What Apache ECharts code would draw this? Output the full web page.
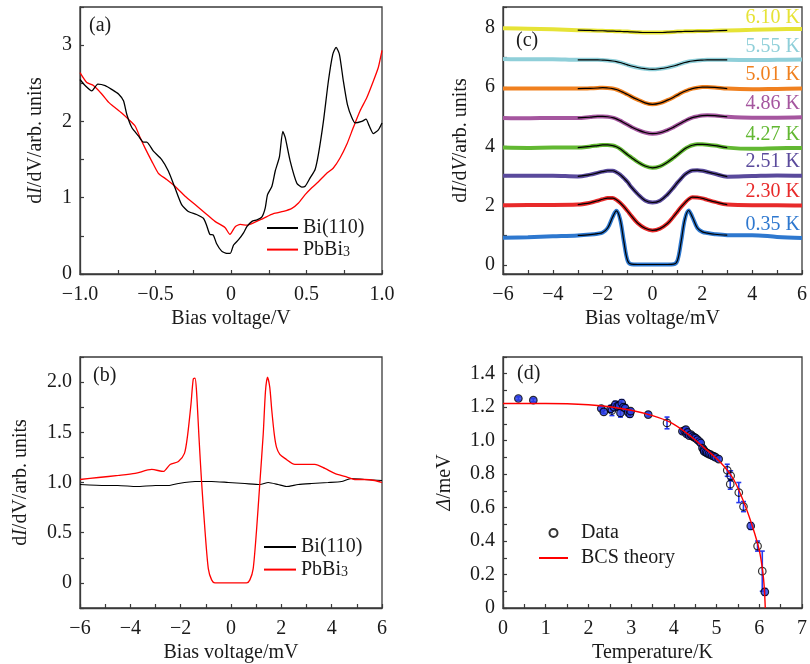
<!DOCTYPE html>
<html>
<head>
<meta charset="utf-8">
<script src="https://cdn.jsdelivr.net/npm/echarts@6/dist/echarts.min.js"></script>
<style>
html, body { margin: 0; padding: 0; background: #ffffff; }
#chart { width: 810px; height: 664px; }
</style>
</head>
<body>
<div id="chart"></div>
<script>
// ---------- (a) wide-range dI/dV spectra, bias in V ----------
const aBiX = [-1.0,-0.966,-0.922,-0.882,-0.833,-0.79,-0.745,-0.712,-0.69,-0.657,-0.613,-0.58,-0.558,-0.514,-0.459,-0.415,-0.371,-0.327,-0.283,-0.228,-0.183,-0.162,-0.14,-0.117,-0.096,-0.062,-0.029,-0.005,0.017,0.05,0.083,0.105,0.139,0.172,0.205,0.226,0.242,0.271,0.293,0.321,0.343,0.359,0.392,0.436,0.469,0.491,0.524,0.557,0.579,0.612,0.645,0.674,0.696,0.718,0.744,0.771,0.80,0.822,0.866,0.894,0.916,0.943,0.976,1.0];
const aBiY = [2.55,2.47,2.40,2.49,2.47,2.42,2.36,2.27,2.09,1.92,1.81,1.73,1.73,1.61,1.50,1.35,1.13,0.91,0.82,0.78,0.73,0.64,0.52,0.51,0.40,0.30,0.27,0.27,0.38,0.45,0.54,0.62,0.69,0.71,0.75,0.86,1.04,1.15,1.35,1.54,1.87,1.79,1.48,1.19,1.14,1.15,1.26,1.37,1.57,2.00,2.53,2.88,2.97,2.88,2.53,2.22,2.05,1.98,2.00,2.03,1.94,1.84,1.89,1.98];
const aPbX = [-1.0,-0.955,-0.911,-0.856,-0.81,-0.767,-0.724,-0.68,-0.635,-0.602,-0.569,-0.525,-0.481,-0.426,-0.371,-0.304,-0.238,-0.172,-0.106,-0.04,-0.007,0.028,0.061,0.105,0.149,0.215,0.281,0.347,0.403,0.447,0.491,0.535,0.579,0.634,0.678,0.722,0.767,0.81,0.855,0.899,0.943,0.976,1.0];
const aPbY = [2.64,2.51,2.47,2.36,2.25,2.18,2.11,2.03,1.94,1.79,1.65,1.48,1.32,1.24,1.15,1.02,0.91,0.80,0.69,0.61,0.52,0.62,0.65,0.64,0.67,0.73,0.79,0.82,0.86,0.93,1.04,1.13,1.21,1.32,1.39,1.52,1.70,1.92,2.14,2.31,2.53,2.71,2.93];

// ---------- (b) low-bias spectra, bias in mV ----------
const bPbX = [-6,-5.27,-4.47,-3.81,-3.15,-2.69,-2.42,-2.09,-1.85,-1.72,-1.59,-1.5,-1.43,-1.37,-1.27,-1.17,-1.03,-0.9,-0.77,-0.64,0,0.62,0.75,0.88,1.01,1.15,1.28,1.37,1.45,1.54,1.62,1.72,1.81,1.94,2.14,2.54,2.93,3.33,3.73,4.12,4.52,4.92,5.31,5.71,6.0];
const bPbY = [1.03,1.05,1.07,1.09,1.13,1.11,1.18,1.21,1.29,1.48,1.78,2.03,2.04,1.91,1.44,1.01,0.51,0.14,0.03,0.0,0.0,0.0,0.03,0.14,0.51,1.01,1.48,1.91,2.05,1.95,1.72,1.48,1.35,1.28,1.24,1.18,1.18,1.18,1.14,1.09,1.06,1.03,1.03,1.02,1.00];
const bBiX = [-6,-5,-4.5,-3.75,-3,-2.49,-2.09,-1.43,-0.77,-0.11,0.55,1.15,1.48,1.87,2.2,2.67,3.2,3.86,4.39,4.78,5.3,6.0];
const bBiY = [0.98,0.97,0.97,0.96,0.97,0.97,0.99,1.01,1.01,1.0,0.99,0.98,1.0,0.98,0.96,0.98,0.99,1.0,1.01,1.04,1.03,1.02];

// ---------- (c) temperature series (offset spectra) ----------
const cBias = [-6,-5,-4,-3,-2.5,-2.2,-2,-1.8,-1.6,-1.45,-1.3,-1.15,-1,-0.85,-0.6,-0.3,0,0.3,0.6,0.85,1,1.15,1.3,1.45,1.6,1.8,2,2.2,2.5,3,4,5,6];
const cTemps = ['0.35 K','2.30 K','2.51 K','4.27 K','4.86 K','5.01 K','5.55 K','6.10 K'];
const c035 = [0.92,0.94,0.97,1.00,1.03,1.06,1.10,1.25,1.62,1.83,1.55,0.80,0.15,0.03,0.02,0.02,0.02,0.02,0.02,0.03,0.15,0.80,1.55,1.84,1.62,1.25,1.12,1.08,1.04,1.01,1.01,0.95,0.91];
const c230 = [2.02,2.03,2.03,2.04,2.10,2.17,2.22,2.26,2.26,2.20,2.10,1.97,1.82,1.66,1.42,1.24,1.17,1.23,1.40,1.64,1.80,1.96,2.10,2.22,2.29,2.28,2.25,2.20,2.13,2.04,2.02,2.02,2.01];
const c251 = [3.01,3.01,3.01,2.99,3.05,3.11,3.15,3.18,3.18,3.13,3.05,2.93,2.80,2.63,2.40,2.18,2.11,2.17,2.38,2.62,2.78,2.92,3.05,3.14,3.19,3.20,3.18,3.14,3.08,2.98,3.00,3.02,3.01];
const c427 = [3.96,3.95,3.96,3.96,4.00,4.03,4.05,4.05,4.03,3.99,3.92,3.82,3.72,3.63,3.48,3.34,3.28,3.33,3.47,3.62,3.72,3.82,3.92,3.99,4.04,4.07,4.07,4.06,4.03,3.96,3.92,3.94,3.95];
const c486 = [4.96,4.95,4.96,4.96,4.99,5.01,5.01,5.00,4.97,4.93,4.87,4.80,4.73,4.66,4.56,4.47,4.43,4.46,4.55,4.65,4.72,4.79,4.86,4.92,4.97,5.01,5.04,5.05,5.04,5.00,4.97,4.97,4.98];
const c501 = [5.95,5.95,5.95,5.95,5.96,5.97,5.98,5.97,5.95,5.92,5.87,5.81,5.75,5.68,5.58,5.47,5.42,5.46,5.56,5.66,5.73,5.80,5.86,5.91,5.95,5.98,6.00,6.00,5.99,5.95,5.93,5.94,5.95];
const c555 = [6.95,6.94,6.94,6.92,6.92,6.92,6.91,6.90,6.88,6.86,6.83,6.79,6.75,6.71,6.66,6.62,6.60,6.62,6.66,6.71,6.75,6.79,6.83,6.86,6.88,6.90,6.91,6.92,6.92,6.92,6.91,6.92,6.93];
const c610 = [7.98,7.97,7.95,7.92,7.91,7.90,7.90,7.89,7.89,7.88,7.88,7.87,7.87,7.86,7.85,7.84,7.84,7.84,7.85,7.86,7.87,7.87,7.88,7.88,7.88,7.89,7.89,7.89,7.90,7.91,7.93,7.95,7.96];
const fitRange = 3; // fitted curves cover |V| <= 3 mV

// ---------- (d) gap vs temperature ----------
const dTemp  = [0.36,0.71,2.30,2.36,2.52,2.55,2.60,2.63,2.68,2.72,2.75,2.78,2.82,2.86,2.93,2.97,2.99,3.40,3.84,4.20,4.25,4.28,4.30,4.32,4.36,4.40,4.44,4.48,4.51,4.55,4.60,4.63,4.67,4.70,4.71,4.75,4.78,4.82,4.86,4.90,4.94,4.98,5.05,5.25,5.33,5.32,5.52,5.63,5.80,5.96,6.07,6.13];
const dGap   = [1.252,1.242,1.192,1.172,1.19,1.18,1.20,1.215,1.205,1.21,1.166,1.225,1.20,1.195,1.17,1.16,1.176,1.156,1.106,1.056,1.06,1.066,1.04,1.05,1.03,1.036,1.026,1.02,1.016,1.006,0.995,0.986,0.956,0.945,0.936,0.93,0.926,0.92,0.916,0.91,0.906,0.90,0.89,0.823,0.79,0.74,0.69,0.606,0.49,0.37,0.22,0.096];
const dErr   = [0.01,0.01,0.01,0.01,0.02,0.03,0.02,0.02,0.02,0.02,0.025,0.02,0.02,0.02,0.02,0.02,0.015,0.01,0.035,0.015,0.01,0.01,0.01,0.015,0.01,0.01,0.01,0.01,0.01,0.01,0.01,0.015,0.01,0.01,0.01,0.01,0.01,0.01,0.01,0.01,0.01,0.01,0.01,0.036,0.03,0.03,0.06,0.03,0.02,0.03,0.12,0.02];
const bcsT = [0,0.5,1.0,1.5,2.0,2.5,3.0,3.5,3.9,4.3,4.7,5.1,5.4,5.65,5.85,6.0,6.08,6.12,6.14];
const bcsGap = [1.222,1.222,1.222,1.221,1.215,1.203,1.182,1.150,1.112,1.045,0.960,0.868,0.768,0.625,0.48,0.345,0.22,0.11,0];

// ---------- styling ----------
const FONT = '"Liberation Serif", "DejaVu Serif", serif';
const INK = '#1a1a1a';
const FRAME = '#3a3a3a';
const FS = 20;
const cColors = ['#2e78cf','#e82a2a','#5a4a9c','#62b832','#a5569f','#f0801f','#8fcfd9','#e6e336'];
const cSets = [c035,c230,c251,c427,c486,c501,c555,c610];
const cLabelY = [226,193,163,136,105,76,48,19];

const zip = (xs, ys) => xs.map((x, i) => [x, ys[i]]);
const isStep = (v, s) => Math.abs(v / s - Math.round(v / s)) < 1e-6;
const minus = s => String(s).replace('-', '\u2212');

const richText = {
  it: { fontStyle: 'italic', fontFamily: FONT, fontSize: FS, color: INK },
  sub: { fontFamily: FONT, fontSize: 14, color: INK, verticalAlign: 'bottom', lineHeight: 20 }
};

function axis(o) {
  return Object.assign({
    type: 'value',
    axisLine: { show: true, onZero: false, lineStyle: { color: FRAME, width: 1.3 } },
    axisTick: { show: true, inside: true, length: 4, lineStyle: { color: FRAME, width: 1.2 } },
    splitLine: { show: false },
    nameLocation: 'middle',
    nameTextStyle: { fontFamily: FONT, fontSize: FS, color: INK, rich: richText },
  }, o);
}
function labels(fmt, margin) {
  return { color: INK, fontFamily: FONT, fontSize: FS, margin: margin, formatter: fmt, showMinLabel: true, showMaxLabel: true };
}

const fmtA_x = v => isStep(v, 0.5) ? (Math.abs(v) < 1e-9 ? '0' : minus(v.toFixed(1))) : '';
const fmtInt2 = v => (isStep(v, 2) ? minus(Math.round(v)) : '');
const fmtA_y = v => (isStep(v, 1) ? String(Math.round(v)) : '');
const fmtB_y = v => (v > -1e-9 && isStep(v, 0.5)) ? (Math.abs(v) < 1e-9 ? '0' : v.toFixed(1)) : '';
const fmtC_y = v => (v > -1e-9 && v < 8.5 && isStep(v, 2)) ? String(Math.round(v)) : '';
const fmtD_x = v => (isStep(v, 1) ? String(Math.round(v)) : '');
const fmtD_y = v => (v < 1.45 && isStep(v, 0.2)) ? (Math.abs(v) < 1e-9 ? '0' : v.toFixed(1)) : '';

const grids = [
  { left: 80, top: 7, width: 302, height: 267 },
  { left: 80, top: 357, width: 302, height: 251 },
  { left: 503, top: 7, width: 303, height: 267 },
  { left: 503, top: 357, width: 303, height: 251 },
].map(g => Object.assign(g, { show: true, borderColor: FRAME, borderWidth: 1.3, backgroundColor: 'transparent' }));

const xAxes = [
  axis({ gridIndex: 0, min: -1, max: 1, interval: 0.25, axisLabel: labels(fmtA_x, 11), name: 'Bias voltage/V', nameGap: 35 }),
  axis({ gridIndex: 1, min: -6, max: 6, interval: 1, axisLabel: labels(fmtInt2, 11), name: 'Bias voltage/mV', nameGap: 35 }),
  axis({ gridIndex: 2, min: -6, max: 6, interval: 1, axisLabel: labels(fmtInt2, 11), name: 'Bias voltage/mV', nameGap: 35 }),
  axis({ gridIndex: 3, min: 0, max: 7, interval: 0.5, axisLabel: labels(fmtD_x, 11), name: 'Temperature/K', nameGap: 35 }),
];
const yAxes = [
  axis({ gridIndex: 0, min: 0, max: 3.5, interval: 0.5, axisLabel: labels(fmtA_y, 8), name: 'd{it|I}/dV/arb. units', nameGap: 34 }),
  axis({ gridIndex: 1, min: -0.25, max: 2.25, interval: 0.25, axisLabel: labels(fmtB_y, 8), name: 'd{it|I}/dV/arb. units', nameGap: 49 }),
  axis({ gridIndex: 2, min: -0.3, max: 8.7, splitNumber: 9, axisLabel: labels(fmtC_y, 8), name: 'd{it|I}/d{it|V}/arb. units', nameGap: 32 }),
  axis({ gridIndex: 3, min: 0, max: 1.5, interval: 0.1, axisLabel: labels(fmtD_y, 8), name: '{it|\u0394}/meV', nameGap: 48 }),
];

const series = [];
function line(name, xi, data, color, width, z, smooth) {
  series.push({
    name: name, type: 'line', xAxisIndex: xi, yAxisIndex: xi, data: data,
    showSymbol: false, symbol: 'none', smooth: smooth || false, z: z || 2,
    lineStyle: { color: color, width: width }, itemStyle: { color: color },
    emphasis: { disabled: true }, animation: false, clip: true
  });
}

// (a)
line('Bi(110)', 0, zip(aBiX, aBiY), '#000000', 1.3, 3, 0.2);
line('PbBi3', 0, zip(aPbX, aPbY), '#ff0000', 1.3, 2, 0.2);
// (b)
line('Bi(110)', 1, zip(bBiX, bBiY), '#000000', 1.2, 2, 0.2);
line('PbBi3', 1, zip(bPbX, bPbY), '#ff0000', 1.3, 3, 0.25);
// (c)
cSets.forEach((vals, k) => {
  const pts = zip(cBias, vals);
  line(cTemps[k], 2, pts, cColors[k], 4, 2, 0.35);
  line(cTemps[k] + ' fit', 2, pts.filter(p => Math.abs(p[0]) <= fitRange), '#000000', 1.2, 3, 0.35);
});
// (d) error bars, points, BCS curve
const dPoints = dTemp.map((t, i) => [t, dGap[i], dErr[i]]);
series.push({
  name: 'errors', type: 'custom', xAxisIndex: 3, yAxisIndex: 3, data: dPoints, z: 2,
  encode: { x: 0, y: 1 }, animation: false, silent: true,
  renderItem: function (params, api) {
    const x = api.value(0), y = api.value(1), e = api.value(2);
    const a = api.coord([x, y + e]), b = api.coord([x, y - e]);
    const w = 2.5, st = { stroke: '#2538ee', lineWidth: 1.6 };
    return { type: 'group', children: [
      { type: 'line', shape: { x1: a[0], y1: a[1], x2: b[0], y2: b[1] }, style: st },
      { type: 'line', shape: { x1: a[0] - w, y1: a[1], x2: a[0] + w, y2: a[1] }, style: st },
      { type: 'line', shape: { x1: b[0] - w, y1: b[1], x2: b[0] + w, y2: b[1] }, style: st },
    ] };
  }
});
series.push({
  name: 'Data', type: 'scatter', xAxisIndex: 3, yAxisIndex: 3, z: 3, symbol: 'circle', symbolSize: 7.5,
  animation: false,
  itemStyle: { color: 'rgba(0,0,0,0)', borderColor: '#000000', borderWidth: 1.2 },
  data: dPoints.map(p => ({ value: [p[0], p[1]], itemStyle: p[2] < 0.03 ? { color: '#2a3de6' } : {} }))
});
line('BCS theory', 3, zip(bcsT, bcsGap), '#ff0000', 1.4, 4, 0.3);

const legendText = { fontFamily: FONT, fontSize: FS, color: INK, lineHeight: 20, rich: richText };
const legFmt = n => (n === 'PbBi3' ? 'PbBi{sub|3}' : n);
const lineOnly = n => ({ name: n, itemStyle: { opacity: 0 } });

const texts = [
  { left: 89, top: 16, text: '(a)' },
  { left: 93, top: 366, text: '(b)' },
  { left: 516, top: 31, text: '(c)' },
  { left: 517, top: 364, text: '(d)' },
].map(t => ({ type: 'text', left: t.left, top: t.top, style: { text: t.text, font: FS + 'px ' + FONT, fill: INK } }));
cTemps.forEach((name, k) => {
  texts.push({ type: 'text', right: 10, top: cLabelY[k] - 11, style: { text: name, font: FS + 'px ' + FONT, fill: cColors[k] } });
});

const option = {
  backgroundColor: '#ffffff',
  animation: false,
  grid: grids,
  xAxis: xAxes,
  yAxis: yAxes,
  legend: [
    { left: 266, top: 218, padding: 0, orient: 'vertical', itemWidth: 31, itemHeight: 14, itemGap: 1.6,
      data: [lineOnly('Bi(110)'), lineOnly('PbBi3')], formatter: legFmt, textStyle: legendText, selectedMode: false },
    { left: 263, top: 537, padding: 0, orient: 'vertical', itemWidth: 32, itemHeight: 14, itemGap: 2.6,
      data: [lineOnly('Bi(110)'), lineOnly('PbBi3')], formatter: legFmt, textStyle: legendText, selectedMode: false },
    { left: 538, top: 523, padding: 0, orient: 'vertical', itemWidth: 29, itemHeight: 8, itemGap: 5,
      data: [{ name: 'Data', icon: 'circle' }, lineOnly('BCS theory')],
      textStyle: Object.assign({}, legendText, { padding: [0, 0, 0, 8] }), selectedMode: false },
  ],
  graphic: texts,
  series: series
};

const chart = echarts.init(document.getElementById('chart'), null, { renderer: 'canvas' });
chart.setOption(option);
</script>
</body>
</html>
